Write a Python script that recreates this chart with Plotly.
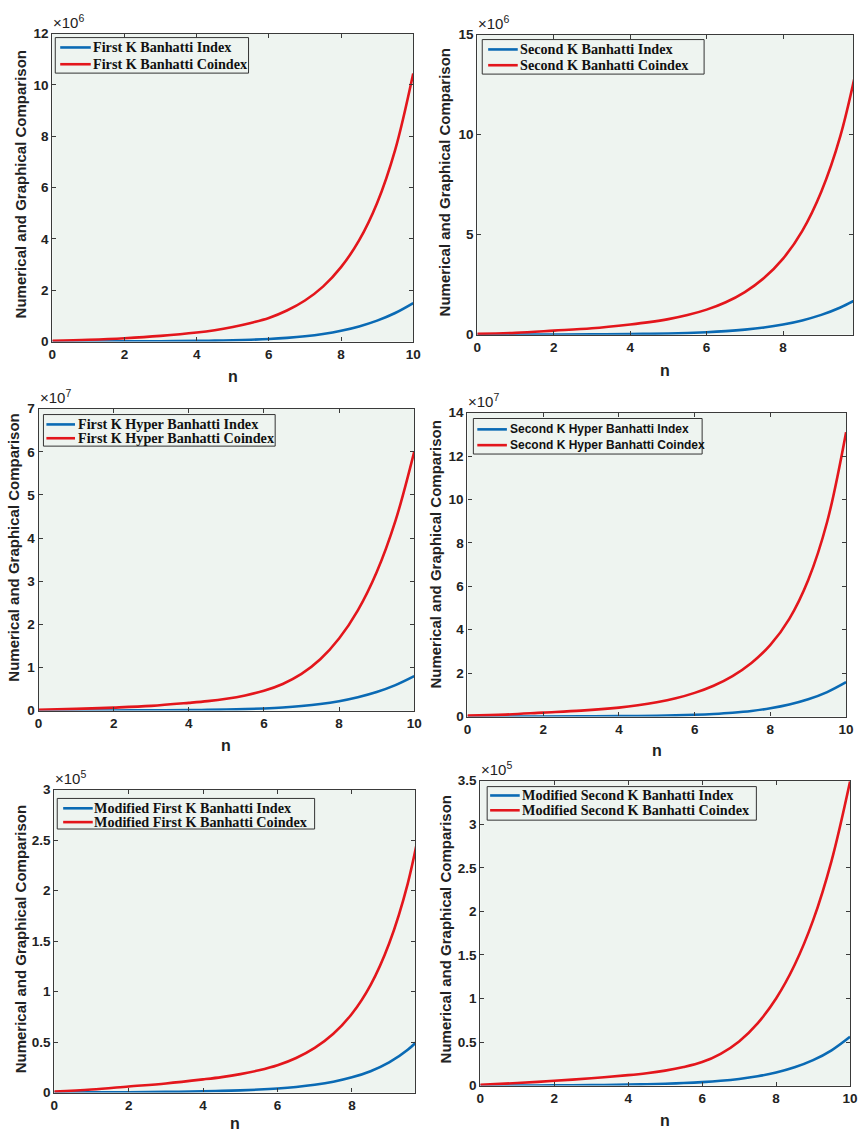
import plotly.graph_objects as go

W, H = 861, 1139

n = [0, 1, 2, 3, 4, 4.5, 5, 5.5, 6, 6.5, 7, 7.5, 8, 8.5, 9, 9.5, 10]

# Panel 1 (x10^6)
first_k_index = [0.0, 0.003, 0.006, 0.012, 0.025, 0.035, 0.049, 0.07, 0.1, 0.144, 0.206, 0.295, 0.42, 0.59, 0.816, 1.113, 1.5]
first_k_coindex = [0.03, 0.07, 0.13, 0.22, 0.35, 0.443, 0.57, 0.726, 0.92, 1.21, 1.6, 2.14, 2.9, 3.94, 5.4, 7.47, 10.45]
# Panel 2 (x10^6)
second_k_index = [0.0, 0.004, 0.008, 0.015, 0.03, 0.042, 0.059, 0.083, 0.119, 0.173, 0.249, 0.356, 0.507, 0.712, 0.987, 1.354, 1.837]
second_k_coindex = [0.04, 0.09, 0.2, 0.32, 0.51, 0.626, 0.776, 0.979, 1.25, 1.62, 2.13, 2.83, 3.8, 5.18, 7.15, 9.94, 14.0]
# Panel 3 (x10^7)
first_hyper_index = [0.0, 0.001, 0.003, 0.006, 0.012, 0.017, 0.024, 0.0345, 0.05, 0.072, 0.105, 0.152, 0.219, 0.31, 0.43, 0.59, 0.798]
first_hyper_coindex = [0.02, 0.04, 0.07, 0.11, 0.18, 0.22, 0.275, 0.352, 0.46, 0.618, 0.85, 1.189, 1.67, 2.323, 3.206, 4.397, 6.0]
# Panel 4 (x10^7)
second_hyper_index = [0.0, 0.002, 0.005, 0.01, 0.02, 0.028, 0.039, 0.0555, 0.08, 0.117, 0.173, 0.255, 0.38, 0.553, 0.792, 1.124, 1.58]
second_hyper_coindex = [0.04, 0.09, 0.18, 0.27, 0.41, 0.516, 0.656, 0.84, 1.09, 1.42, 1.865, 2.467, 3.3, 4.5, 6.29, 8.97, 13.1]
# Panel 5 (x10^5)
mod_first_index = [0.0, 0.001, 0.003, 0.006, 0.012, 0.016, 0.0216, 0.0293, 0.04, 0.055, 0.0764, 0.1066, 0.15, 0.211, 0.2985, 0.4227, 0.6]
mod_first_coindex = [0.01, 0.03, 0.06, 0.09, 0.13, 0.1526, 0.182, 0.22, 0.27, 0.342, 0.442, 0.582, 0.78, 1.064, 1.476, 2.069, 2.95]
# Panel 6 (x10^5)
mod_second_index = [0.0, 0.001, 0.003, 0.006, 0.012, 0.016, 0.0216, 0.0293, 0.04, 0.055, 0.0764, 0.1066, 0.15, 0.21, 0.292, 0.405, 0.56]
mod_second_coindex = [0.01, 0.03, 0.055, 0.085, 0.12, 0.142, 0.172, 0.213, 0.27, 0.365, 0.507, 0.715, 1.0, 1.384, 1.896, 2.58, 3.49]

panels = [
    dict(idx=first_k_index, co=first_k_coindex,
         names=["First K Banhatti Index", "First K Banhatti Coindex"],
         px=(49, 415), py=(27, 339), xr=[0, 10], yr=[0, 12], yt=[0, 2, 4, 6, 8, 10, 12],
         exp="6", ylab_x=17, ylab_y=180, nlab_y=374,
         box=(52, 31, 248, 67), rows=(41, 58), line=(57, 88), tx=92, legfont="serif"),
    dict(idx=second_k_index, co=second_k_coindex,
         names=["Second K Banhatti Index", "Second K Banhatti Coindex"],
         px=(480, 861), py=(28, 332), xr=[0, 9.83], yr=[0, 15], yt=[0, 5, 10, 15],
         exp="6", ylab_x=447, ylab_y=178, nlab_y=368,
         box=(485, 33, 710, 68), rows=(43, 59), line=(491, 521), tx=525, legfont="serif"),
    dict(idx=first_hyper_index, co=first_hyper_coindex,
         names=["First K Hyper Banhatti Index", "First K Hyper Banhatti Coindex"],
         px=(35, 416), py=(407, 713), xr=[0, 10], yr=[0, 7], yt=[0, 1, 2, 3, 4, 5, 6, 7],
         exp="7", ylab_x=10, ylab_y=548, nlab_y=748,
         box=(40, 413, 275, 445), rows=(423, 437), line=(43, 72), tx=77, legfont="serif"),
    dict(idx=second_hyper_index, co=second_hyper_coindex,
         names=["Second K Hyper Banhatti Index", "Second K Hyper Banhatti Coindex"],
         px=(470, 854), py=(411, 719), xr=[0, 10], yr=[0, 14], yt=[0, 2, 4, 6, 8, 10, 12, 14],
         exp="7", ylab_x=438, ylab_y=555, nlab_y=753,
         box=(476, 417, 708, 453), rows=(428, 444), line=(480, 510), tx=513, legfont="sans"),
    dict(idx=mod_first_index, co=mod_first_coindex,
         names=["Modified First K Banhatti Index", "Modified First K Banhatti Coindex"],
         px=(51, 417), py=(793, 1100), xr=[0, 9.7], yr=[0, 3], yt=[0, 0.5, 1, 1.5, 2, 2.5, 3],
         exp="5", ylab_x=17, ylab_y=945, nlab_y=1131,
         box=(54, 802, 315, 833), rows=(812, 826), line=(60, 90), tx=93, legfont="serif"),
    dict(idx=mod_second_index, co=mod_second_coindex,
         names=["Modified Second K Banhatti Index", "Modified Second K Banhatti Coindex"],
         px=(483, 858), py=(784, 1093), xr=[0, 10], yr=[0, 3.5], yt=[0, 0.5, 1, 1.5, 2, 2.5, 3, 3.5],
         exp="5", ylab_x=448, ylab_y=935, nlab_y=1128,
         box=(490, 790, 763, 824), rows=(799, 814), line=(493, 523), tx=527, legfont="serif"),
]

BLUE = "#0a6ab4"
RED = "#e3161c"
BG = "#eef4f0"
AXC = "#3a3a3a"
SANS = "Liberation Sans, Arial, sans-serif"
SERIF = "Liberation Serif, Times New Roman, serif"

fig = go.Figure()
annotations = []
shapes = []
layout = dict(width=W, height=H, margin=dict(l=0, r=0, t=0, b=0),
              paper_bgcolor="white", plot_bgcolor=BG, showlegend=False)


def fmt(v):
    return str(int(v)) if float(v).is_integer() else str(v)


def PX(x):
    return x / W


def PY(y):
    return 1 - y / H


for i, p in enumerate(panels, start=1):
    xa = "x" if i == 1 else f"x{i}"
    ya = "y" if i == 1 else f"y{i}"
    for vals, name, col in [(p["idx"], p["names"][0], BLUE), (p["co"], p["names"][1], RED)]:
        fig.add_trace(go.Scatter(x=n, y=vals, mode="lines", name=name,
                                 line=dict(color=col, width=2.6, shape="spline", smoothing=1.0),
                                 xaxis=xa, yaxis=ya, hoverinfo="skip"))
    x0, x1 = p["px"]; y0, y1 = p["py"]
    xkey = "xaxis" if i == 1 else f"xaxis{i}"
    ykey = "yaxis" if i == 1 else f"yaxis{i}"
    tickfont = dict(family=SANS, size=13.5, color="#222", weight="bold")
    layout[xkey] = dict(domain=[PX(x0), PX(x1)], range=p["xr"], anchor=ya,
                        tickvals=[0, 2, 4, 6, 8, 10], ticks="inside", ticklen=4,
                        tickcolor=AXC, showline=True, linecolor=AXC, linewidth=1.2,
                        mirror="ticks", showgrid=False, zeroline=False, tickfont=tickfont)
    layout[ykey] = dict(domain=[PY(y1), PY(y0)], range=p["yr"], anchor=xa,
                        tickvals=p["yt"], ticktext=[fmt(v) for v in p["yt"]],
                        ticks="inside", ticklen=4, tickcolor=AXC, showline=True,
                        linecolor=AXC, linewidth=1.2, mirror="ticks", showgrid=False,
                        zeroline=False, tickfont=tickfont)
    # legend box drawn in paper coordinates
    bx0, by0, bx1, by1 = p["box"]
    shapes.append(dict(type="rect", xref="paper", yref="paper", x0=PX(bx0), x1=PX(bx1),
                       y0=PY(by1), y1=PY(by0), fillcolor=BG, line=dict(color="#333", width=1)))
    if p["legfont"] == "serif":
        lfont = dict(family=SERIF, size=14.2, color="#111", weight="bold")
        tx = p["tx"] - 4
    else:
        lfont = dict(family=SANS, size=12, color="#111", weight="bold")
        tx = p["tx"] - 2
    for row_y, name, col in zip(p["rows"], p["names"], [BLUE, RED]):
        shapes.append(dict(type="line", xref="paper", yref="paper", x0=PX(p["line"][0]),
                           x1=PX(p["line"][1]), y0=PY(row_y), y1=PY(row_y),
                           line=dict(color=col, width=2.6)))
        annotations.append(dict(text=name, x=PX(tx), y=PY(row_y), xref="paper", yref="paper",
                                xanchor="left", yanchor="middle", showarrow=False, font=lfont))
    # exponent label
    annotations.append(dict(text="×10<sup>" + p["exp"] + "</sup>", x=PX(x0 - 1), y=PY(y0 - 1),
                            xref="paper", yref="paper", xanchor="left", yanchor="bottom",
                            showarrow=False, font=dict(family=SANS, size=15, color="#222")))
    # y label
    annotations.append(dict(text="Numerical and Graphical Comparison", x=PX(p["ylab_x"]),
                            y=PY(p["ylab_y"]), xref="paper", yref="paper", textangle=-90,
                            xanchor="center", yanchor="middle", showarrow=False,
                            font=dict(family=SANS, size=15, color="#222", weight="bold")))
    # x label
    annotations.append(dict(text="n", x=PX((x0 + x1) / 2), y=PY(p["nlab_y"]),
                            xref="paper", yref="paper", xanchor="center", yanchor="middle",
                            showarrow=False,
                            font=dict(family=SANS, size=16, color="#222", weight="bold")))

layout["annotations"] = annotations
layout["shapes"] = shapes
fig.update_layout(**layout)
fig.write_html("out.html")
